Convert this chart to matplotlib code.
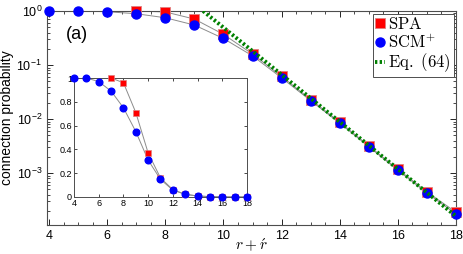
import numpy as np
import matplotlib
matplotlib.use('Agg')
import matplotlib.pyplot as plt
from matplotlib.ticker import MultipleLocator, LogLocator, NullFormatter

plt.rcParams['font.family'] = ['Liberation Sans', 'DejaVu Sans']
plt.rcParams['mathtext.fontset'] = 'cm'

# data
spa_x = [7, 8, 9, 10, 11, 12, 13, 14, 15, 16, 17, 18]
spa_y = [1.0, 0.96, 0.71, 0.37, 0.16, 0.062, 0.023, 0.0088, 0.0032, 0.00118, 0.00045, 0.00019]
scm_x = [4, 5, 6, 7, 8, 9, 10, 11, 12, 13, 14, 15, 16, 17, 18]
scm_y = [1.0, 1.0, 0.97, 0.89, 0.75, 0.55, 0.31, 0.148, 0.058, 0.022, 0.0084, 0.0031, 0.00113, 0.00043, 0.000175]
eq_x = [9.3, 18]
eq_y = [1.0, 1.6e-4]

fig = plt.figure(figsize=(4.63, 2.54), dpi=100)
ax = fig.add_axes([47/463, 29/254, 409/463, 214/254])

ax.plot(spa_x, spa_y, '-', color='0.55', lw=0.7, zorder=2)
ax.plot(scm_x, scm_y, '-', color='0.55', lw=0.7, zorder=2)
ax.plot(spa_x, spa_y, 's', color='red', mec='#e08080', ms=6.5, mew=0.6,
        label=r'$\mathrm{SPA}$', zorder=3, clip_on=False)
ax.plot(scm_x, scm_y, 'o', color='blue', mec='blue', ms=6.5,
        label=r'$\mathrm{SCM}^{+}$', zorder=4, clip_on=False)
ax.plot(eq_x, eq_y, color='#008000', lw=2.8, ls=(0, (0.6, 0.6)),
        label=r'$\mathrm{Eq.\ (64)}$', zorder=5)

ax.set_yscale('log')
ax.set_xlim(3.93, 18)
ax.set_ylim(1.1e-4, 1)
ax.set_yticks([1, 1e-1, 1e-2, 1e-3])
ax.yaxis.set_minor_locator(LogLocator(base=10, subs=np.arange(2, 10)))
ax.yaxis.set_minor_formatter(NullFormatter())
ax.xaxis.set_major_locator(MultipleLocator(2))
ax.xaxis.set_minor_locator(MultipleLocator(0.5))
ax.tick_params(which='both', direction='in', top=True, right=True, labelsize=9)
ax.tick_params(which='major', length=4, width=0.6)
ax.tick_params(which='minor', length=2, width=0.5)
for s in ax.spines.values():
    s.set_linewidth(0.8)
    s.set_color('0.3')

ax.set_xlabel(r'$r+\acute{r}$', fontsize=11, labelpad=-4)
ax.set_ylabel('connection probability', fontsize=10, labelpad=2)
ax.text(0.045, 0.89, '(a)', transform=ax.transAxes, fontsize=13, va='center')

leg = ax.legend(loc='upper right', prop={'size': 12},
                handlelength=0.6, handletextpad=0.2, borderpad=0.15,
                labelspacing=0.05, borderaxespad=0.15, fancybox=False,
                framealpha=1, edgecolor='0.3')
leg.get_frame().set_linewidth(0.7)

# inset with linear scale
ins = fig.add_axes([74/463, (254-197)/254, 173/463, 119/254])
ins.plot(spa_x, spa_y, '-', color='0.55', lw=0.7, zorder=2)
ins.plot(scm_x, scm_y, '-', color='0.55', lw=0.7, zorder=2)
ins.plot(spa_x, spa_y, 's', color='red', mec='#e08080', ms=4.8, mew=0.5,
         zorder=3, clip_on=False)
ins.plot(scm_x, scm_y, 'o', color='blue', ms=4.8, zorder=4, clip_on=False)
ins.set_xlim(4, 18)
ins.set_ylim(0, 1)
ins.xaxis.set_major_locator(MultipleLocator(2))
ins.set_yticks([0, 0.2, 0.4, 0.6, 0.8, 1])
ins.set_yticklabels(['0', '0.2', '0.4', '0.6', '0.8', '1'])
ins.tick_params(which='both', direction='in', top=True, right=True,
                labelsize=6.5, length=2.5, width=0.5, pad=1.5)
for s in ins.spines.values():
    s.set_linewidth(0.7)
    s.set_color('0.3')

fig.savefig('out.png', dpi=100)
